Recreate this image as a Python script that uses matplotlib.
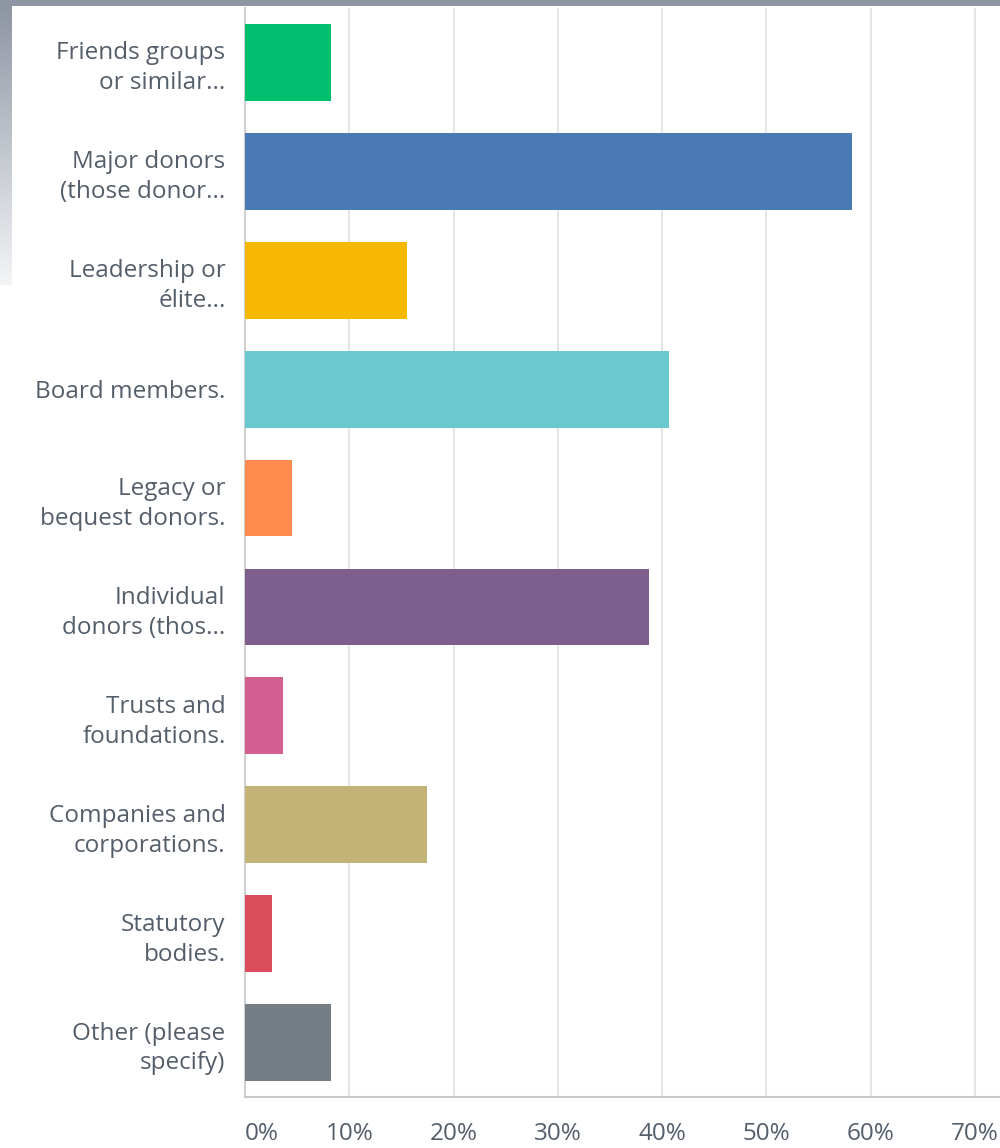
import numpy as np
import matplotlib.pyplot as plt
from matplotlib.colors import LinearSegmentedColormap
from matplotlib.ticker import PercentFormatter

labels = ["Friends groups\nor similar...", "Major donors\n(those donor...",
          "Leadership or\nélite...", "Board members.", "Legacy or\nbequest donors.",
          "Individual\ndonors (thos...", "Trusts and\nfoundations.",
          "Companies and\ncorporations.", "Statutory\nbodies.", "Other (please\nspecify)"]
values = [8.25, 58.2, 15.5, 40.65, 4.5, 38.7, 3.6, 17.45, 2.6, 8.25]
colors = ["#00BF6F", "#4A7AB4", "#F6B800", "#6BC8CD", "#FF8B4F",
          "#7D5E8C", "#D25F90", "#C4B377", "#DB4D5C", "#757D84"]
ticks = [0, 10, 20, 30, 40, 50, 60, 70]

plt.rcParams['font.family'] = ['Open Sans', 'DejaVu Sans']

fig = plt.figure(figsize=(10, 11.48), dpi=100)

# window frame: grey band along the top, fading strip on the left
frame = fig.add_axes([0, 0, 1, 1], zorder=-1)
frame.axis('off')
frame.axhspan(0, 6, color="#8E96A3", lw=0)
grad = np.linspace(0, 1, 200).reshape(-1, 1)
edge = LinearSegmentedColormap.from_list("edge", ["#8E96A3", "#F3F4F6"])
frame.imshow(grad, cmap=edge, extent=(0, 12, 285, 6), aspect='auto')
frame.set_xlim(0, 1000)
frame.set_ylim(1148, 0)

ax = fig.add_axes([0.245, 1 - 1097 / 1148, 0.755, (1097 - 8) / 1148])
y = np.arange(len(labels))
ax.barh(y, values, height=0.706, color=colors, zorder=3)
ax.set_ylim(len(labels) - 0.5, -0.5)
ax.set_xlim(0, 72.4)

ax.set_yticks(y)
ax.set_yticklabels(labels, fontsize=17.5, color="#545E6B", linespacing=1.33)
ax.set_xticks(ticks)
ax.xaxis.set_major_formatter(PercentFormatter(decimals=0))
ax.tick_params(axis='y', length=0, pad=14)
ax.tick_params(axis='x', length=0, pad=18, labelsize=17.5, labelcolor="#545E6B")
ax.get_xticklabels()[0].set_horizontalalignment('left')

ax.grid(axis='x', color="#E5E5E5", lw=1.5, zorder=0)
for s in ["top", "right"]:
    ax.spines[s].set_visible(False)
ax.spines["left"].set_color("#D0D0D0")
ax.spines["left"].set_linewidth(1.5)
ax.spines["bottom"].set_color("#C8C8C8")
ax.spines["bottom"].set_linewidth(1.5)

fig.savefig("out.png", dpi=100)
